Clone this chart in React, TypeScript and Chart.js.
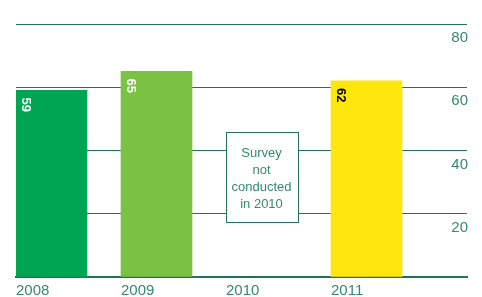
import React, { useEffect, useRef } from 'react';
import { Chart, registerables } from 'chart.js';

Chart.register(...registerables);

// ---- data ----
const years = ['2008', '2009', '2010', '2011'];
const scores: (number | null)[] = [59, 65, null, 62];
const barColors = ['#00a551', '#7bc143', '#ffffff', '#ffe60d'];
const barLabelColors = ['#ffffff', '#ffffff', '#000000', '#000000'];
const yTickValues = [0, 20, 40, 60, 80];
const noteLines = ['Survey', 'not', 'conducted', 'in 2010'];
const noteYear = '2010';
const noteCenterValue = 31.6;

const FONT = '"Liberation Sans", Arial, Helvetica, sans-serif';
const TEAL = '#35896f';
const GRID = '#23735a';

export default function App() {
  const ref = useRef<HTMLCanvasElement>(null);

  useEffect(() => {
    if (!ref.current) return;

    const overlay = {
      id: 'overlay',
      afterDatasetsDraw(chart: any) {
        const ctx = chart.ctx;
        const meta = chart.getDatasetMeta(0);
        meta.data.forEach((el: any, i: number) => {
          const v = scores[i];
          if (v == null) return;
          const { x, y, width } = el.getProps(['x', 'y', 'width'], true);
          const left = x - width / 2;
          ctx.save();
          ctx.translate(left + 6, y + 7);
          ctx.rotate(Math.PI / 2);
          ctx.font = `bold 13px ${FONT}`;
          ctx.fillStyle = barLabelColors[i];
          ctx.textAlign = 'left';
          ctx.textBaseline = 'alphabetic';
          ctx.fillText(String(v), 0, 0);
          ctx.restore();
        });

        // note box
        const xs = chart.scales.x;
        const ys = chart.scales.y;
        const cx = xs.getPixelForValue(years.indexOf(noteYear));
        const cy = ys.getPixelForValue(noteCenterValue);
        const w = 72;
        const h = 90;
        const bx = Math.round(cx - w / 2) + 0.5;
        const by = Math.round(cy - h / 2) + 0.5;
        ctx.save();
        ctx.fillStyle = '#ffffff';
        ctx.fillRect(bx, by, w, h);
        ctx.strokeStyle = GRID;
        ctx.lineWidth = 1;
        ctx.strokeRect(bx, by, w, h);
        ctx.fillStyle = TEAL;
        ctx.font = `13px ${FONT}`;
        ctx.textAlign = 'center';
        ctx.textBaseline = 'middle';
        noteLines.forEach((line, i) => {
          ctx.fillText(line, cx, cy + (i - (noteLines.length - 1) / 2) * 17 + 1.5);
        });
        ctx.restore();
      },
    };

    const chart = new Chart(ref.current, {
      type: 'bar',
      data: {
        datasets: [
          {
            data: years.map((_, i) => ({ x: i, y: scores[i] })) as any,
            backgroundColor: barColors,
            borderWidth: 0,
            barThickness: 71,
          },
        ],
      },
      options: {
        animation: false,
        responsive: false,
        maintainAspectRatio: false,
        layout: { padding: { left: 16, right: 15, top: 24, bottom: 0 } },
        plugins: {
          legend: { display: false },
          tooltip: { enabled: false },
        },
        scales: {
          x: {
            type: 'linear',
            offset: false,
            min: -0.338,
            max: 3.957,
            grid: { display: false, drawTicks: false },
            border: { display: true, color: GRID, width: 2 },
            ticks: {
              stepSize: 1,
              autoSkip: false,
              maxRotation: 0,
              minRotation: 0,
              includeBounds: false,
              align: 'start',
              labelOffset: -35.5,
              padding: 5,
              color: TEAL,
              font: { family: FONT, size: 15 },
              callback: (v: any) => (Number.isInteger(v) && years[v] !== undefined ? years[v] : ''),
            },
            afterFit: (s: any) => {
              s.height = 20;
            },
          },
          y: {
            position: 'right',
            min: yTickValues[0],
            max: yTickValues[yTickValues.length - 1],
            grid: {
              color: (c: any) => (c.tick && c.tick.value === 0 ? 'rgba(0,0,0,0)' : GRID),
              lineWidth: 1,
              drawTicks: false,
            },
            border: { display: false },
            afterBuildTicks: (s: any) => {
              s.ticks = yTickValues.map((v) => ({ value: v }));
            },
            ticks: {
              mirror: true,
              padding: 1,
              labelOffset: 14,
              color: TEAL,
              font: { family: FONT, size: 15 },
              callback: (v: any) => (v === 0 ? '' : String(v)),
            },
            afterFit: (s: any) => {
              s.width = 0;
            },
          },
        },
      },
      plugins: [overlay],
    });

    return () => chart.destroy();
  }, []);

  return (
    <div style={{ position: 'fixed', left: 0, top: 0, width: 482, height: 297, background: '#fff' }}>
      <canvas ref={ref} width={482} height={297} style={{ display: 'block', width: 482, height: 297 }} />
    </div>
  );
}
